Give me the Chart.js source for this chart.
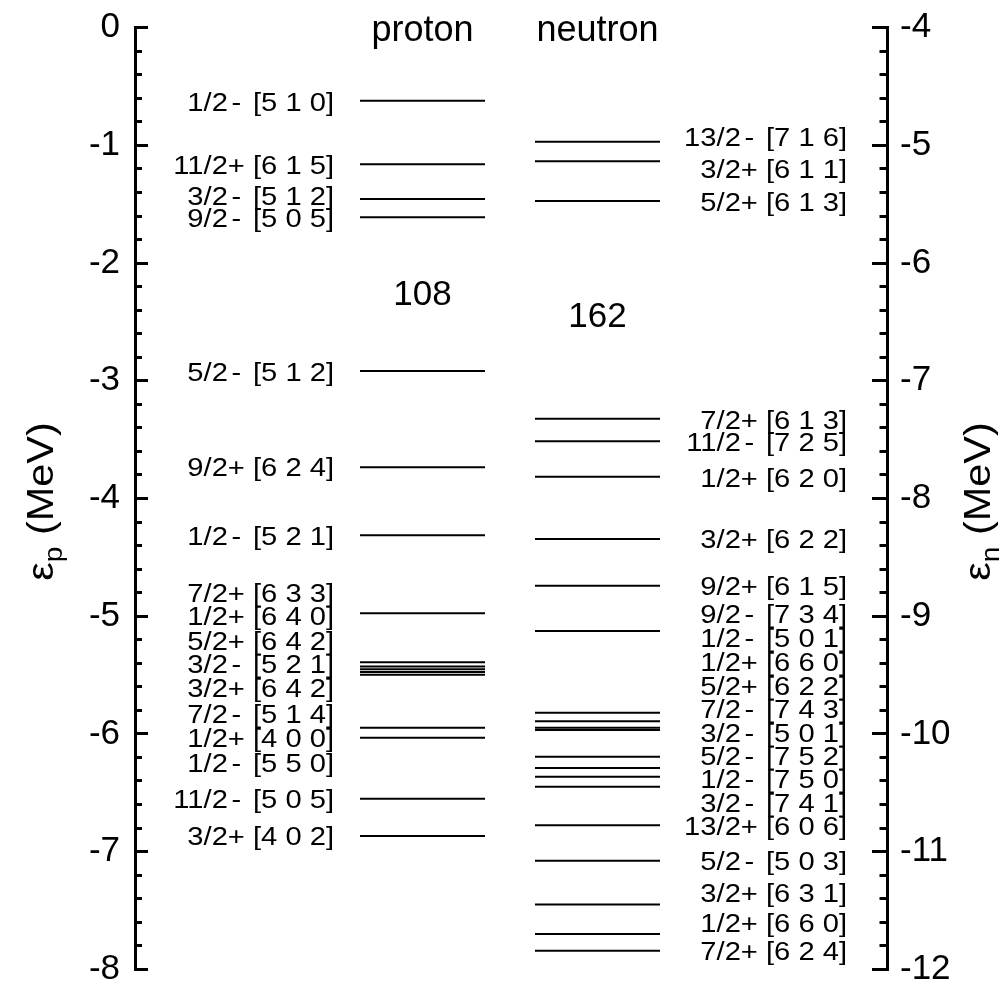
<!DOCTYPE html>
<html>
<head>
<meta charset="utf-8">
<script src="https://cdn.jsdelivr.net/npm/chart.js"></script>
<style>
html,body{margin:0;padding:0;background:#fff;}
canvas{display:block;}
</style>
</head>
<body>
<canvas id="c" width="1005" height="985"></canvas>
<script>
// ---------------- data ----------------
const protonRange = [-8, 0];
const neutronRange = [-12, -4];

const protonEnergies = [-0.62, -1.16, -1.455, -1.61, -2.917, -3.735, -4.313, -4.975,
  -5.392, -5.428, -5.451, -5.474, -5.497, -5.947, -6.032, -6.55, -6.867];
const protonLabels = ["1/2- [5 1 0]", "11/2+ [6 1 5]", "3/2- [5 1 2]", "9/2- [5 0 5]",
  "5/2- [5 1 2]", "9/2+ [6 2 4]", "1/2- [5 2 1]", "7/2+ [6 3 3]", "1/2+ [6 4 0]",
  "5/2+ [6 4 2]", "3/2- [5 2 1]", "3/2+ [6 4 2]", "7/2- [5 1 4]", "1/2+ [4 0 0]",
  "1/2- [5 5 0]", "11/2- [5 0 5]", "3/2+ [4 0 2]"];
const protonLabelEnergies = [-0.631, -1.166, -1.424, -1.613, -2.923, -3.732, -4.316,
  -4.797, -4.996, -5.208, -5.406, -5.606, -5.825, -6.029, -6.241, -6.553, -6.865];

const neutronEnergies = [-4.968, -5.135, -5.472, -7.322, -7.514, -7.815, -8.344, -8.741,
  -9.126, -9.82, -9.893, -9.947, -9.967, -10.194, -10.29, -10.364, -10.449, -10.777,
  -11.078, -11.449, -11.7, -11.842];
const neutronLabels = ["13/2- [7 1 6]", "3/2+ [6 1 1]", "5/2+ [6 1 3]", "7/2+ [6 1 3]",
  "11/2- [7 2 5]", "1/2+ [6 2 0]", "3/2+ [6 2 2]", "9/2+ [6 1 5]", "9/2- [7 3 4]",
  "1/2- [5 0 1]", "1/2+ [6 6 0]", "5/2+ [6 2 2]", "7/2- [7 4 3]", "3/2- [5 0 1]",
  "5/2- [7 5 2]", "1/2- [7 5 0]", "3/2- [7 4 1]", "13/2+ [6 0 6]", "5/2- [5 0 3]",
  "3/2+ [6 3 1]", "1/2+ [6 6 0]", "7/2+ [6 2 4]"];
const neutronLabelEnergies = [-4.926, -5.195, -5.478, -7.325, -7.520, -7.820, -8.344,
  -8.741, -8.981, -9.179, -9.385, -9.590, -9.788, -9.986, -10.184, -10.382, -10.581,
  -10.780, -11.077, -11.346, -11.601, -11.842];

const columnTitles = ["proton", "neutron"];
const shellGaps = ["108", "162"];
const shellGapEnergies = [-2.25, -6.437];   // proton gap on left scale, neutron gap on right scale
const axisSubscripts = ["p", "n"];

// ---------------- layout / style ----------------
const FONT = '"Liberation Sans", Arial, Helvetica, sans-serif';
const X_RANGE = [0, 6.016];
const COL_CENTER = [2.3, 3.7];
const HALF = 0.5;

function levelPoints(energies, c) {
  const pts = [];
  energies.forEach(e => { pts.push({x: c - HALF, y: e}, {x: c + HALF, y: e}, {x: c, y: null}); });
  return pts;
}
const isInt = v => Math.abs(v - Math.round(v)) < 1e-6;

function drawLevelLabel(ctx, text, xR, yC, size, sx) {
  const sp = text.indexOf(' ');
  const left = text.slice(0, sp), right = text.slice(sp + 1);
  const sign = left.slice(-1), frac = left.slice(0, -1);
  ctx.font = size + 'px ' + FONT;
  const wR = ctx.measureText(right).width;
  const wS = ctx.measureText(' ').width;
  const wP = ctx.measureText('+').width;
  ctx.save();
  ctx.translate(xR, yC + 0.358 * size);
  ctx.scale(sx, 1);
  ctx.textBaseline = 'alphabetic';
  ctx.textAlign = 'right';
  ctx.fillText(right, 0, 0);
  ctx.textAlign = 'center';
  ctx.fillText(sign, -(wR + wS + wP / 2), 0);
  ctx.textAlign = 'right';
  ctx.fillText(frac, -(wR + wS + wP), 0);
  ctx.restore();
}

function drawAxisTitle(ctx, sub, xBase, yCenter) {
  const big = 37, small = 25, sx = 1.12;
  ctx.save();
  ctx.translate(xBase, yCenter);
  ctx.rotate(-Math.PI / 2);
  ctx.scale(sx, 1);
  ctx.textBaseline = 'alphabetic';
  ctx.textAlign = 'left';
  ctx.font = big + 'px ' + FONT;
  const wE = ctx.measureText('\u03b5').width;
  const wRest = ctx.measureText(' (MeV)').width;
  ctx.font = small + 'px ' + FONT;
  const wSub = ctx.measureText(sub).width;
  let x = -(wE + wSub + wRest) / 2;
  ctx.font = big + 'px ' + FONT;
  ctx.fillText('\u03b5', x, 0); x += wE;
  ctx.font = small + 'px ' + FONT;
  ctx.fillText(sub, x, 9); x += wSub;
  ctx.font = big + 'px ' + FONT;
  ctx.fillText(' (MeV)', x, 0);
  ctx.restore();
}

const annotations = {
  id: 'annotations',
  afterDatasetsDraw(chart) {
    const ctx = chart.ctx;
    const xs = chart.scales.x, ys = chart.scales.y, y2 = chart.scales.y2;
    const area = chart.chartArea;
    ctx.save();
    ctx.fillStyle = '#000';
    // level labels
    const pR = xs.getPixelForValue(COL_CENTER[0] - HALF) - 26;
    protonLabels.forEach((t, i) => drawLevelLabel(ctx, t, pR, ys.getPixelForValue(protonLabelEnergies[i]), 26.5, 1.1));
    const nR = xs.getPixelForValue(COL_CENTER[1] + HALF) + 187;
    neutronLabels.forEach((t, i) => drawLevelLabel(ctx, t, nR, y2.getPixelForValue(neutronLabelEnergies[i]), 26.5, 1.1));
    // column titles
    ctx.font = '36px ' + FONT;
    ctx.textAlign = 'center';
    ctx.textBaseline = 'alphabetic';
    columnTitles.forEach((t, i) => ctx.fillText(t, xs.getPixelForValue(COL_CENTER[i]), area.top + 13));
    // shell gaps
    ctx.font = '35px ' + FONT;
    ctx.fillText(shellGaps[0], xs.getPixelForValue(COL_CENTER[0]), ys.getPixelForValue(shellGapEnergies[0]) + 12.5);
    ctx.fillText(shellGaps[1], xs.getPixelForValue(COL_CENTER[1]), y2.getPixelForValue(shellGapEnergies[1]) + 12.5);
    // axis titles
    const yMid = (area.top + area.bottom) / 2 + 3;
    drawAxisTitle(ctx, axisSubscripts[0], 53, yMid);
    drawAxisTitle(ctx, axisSubscripts[1], 990, yMid);
    ctx.restore();
  }
};

function axisConfig(range, position) {
  const left = position === 'left';
  return {
    type: 'linear',
    position,
    min: range[0],
    max: range[1],
    ticks: {
      stepSize: 0.2,
      autoSkip: false,
      padding: 28,
      color: '#000',
      font: {family: FONT, size: 35},
      callback: v => isInt(v) ? String(Math.round(v)) : ''
    },
    grid: {
      display: true,
      drawOnChartArea: false,
      drawTicks: true,
      tickLength: left ? -13 : -15,
      tickWidth: 3,
      tickColor: '#000',
      tickBorderDash: ctx => {
        if (isInt(ctx.tick.value)) return [];
        return left ? [0, 6, 100, 0] : [9.5, 100];
      }
    },
    border: {display: true, width: 3, color: '#000'},
    afterFit: s => {
      s.width = left ? 135 : 118;
      s.paddingTop = 0; s.paddingBottom = 0;
    }
  };
}

new Chart(document.getElementById('c'), {
  type: 'scatter',
  data: {
    datasets: [
      {data: levelPoints(protonEnergies, COL_CENTER[0]), yAxisID: 'y', showLine: true,
       spanGaps: false, borderColor: '#000', borderWidth: 2, pointRadius: 0},
      {data: levelPoints(neutronEnergies, COL_CENTER[1]), yAxisID: 'y2', showLine: true,
       spanGaps: false, borderColor: '#000', borderWidth: 2, pointRadius: 0}
    ]
  },
  options: {
    responsive: false,
    animation: false,
    devicePixelRatio: 1,
    layout: {padding: {top: 27.7, bottom: 15.7, left: 0, right: 0}},
    plugins: {legend: {display: false}, tooltip: {enabled: false}},
    scales: {
      x: {type: 'linear', display: false, min: X_RANGE[0], max: X_RANGE[1]},
      y: axisConfig(protonRange, 'left'),
      y2: axisConfig(neutronRange, 'right')
    }
  },
  plugins: [annotations]
});
</script>
</body>
</html>
